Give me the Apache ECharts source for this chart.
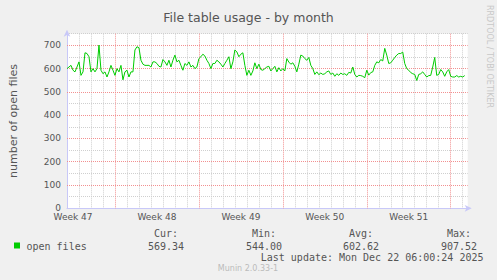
<!DOCTYPE html>
<html>
<head>
<meta charset="utf-8">
<script src="https://cdn.jsdelivr.net/npm/echarts@6/dist/echarts.min.js"></script>
<style>html,body{margin:0;padding:0;background:#f0f0f0;}#c{width:497px;height:280px;}</style>
</head>
<body>
<div id="c"></div>
<script>
// ---- data ----
const titleText = 'File table usage - by month';
const yAxisName = 'number of open files';
const seriesName = 'open files';
const startHour = 0;      // hours from left edge of plot
const stepHours = 4;      // sample spacing in hours
const openFiles = [
600,607,614,593,586,607,629,571,586,668,
665,651,586,600,586,600,701,593,578,586,
564,586,614,593,571,600,586,614,552,586,
593,564,586,586,680,694,690,636,619,614,
614,614,607,629,629,622,610,607,639,629,
614,636,607,636,658,629,636,614,593,622,
614,629,607,614,600,607,643,651,662,654,
636,622,600,622,622,636,629,619,607,622,
636,651,600,629,680,672,651,
662,668,614,571,593,571,590,625,600,619,
596,593,600,607,610,590,600,610,586,604,
590,600,590,643,628,619,625,610,586,619,
658,654,643,636,648,614,600,575,586,574,
581,575,578,586,590,575,581,567,578,571,
581,575,578,571,584,581,607,575,564,571,
570,567,561,593,572,583,586,614,629,625,
639,633,687,658,622,625,636,648,658,665,
665,671,622,600,593,583,578,575,549,575,
578,586,575,564,570,571,607,648,571,575,
596,586,567,586,596,567,564,564,570,564,
567,564,570
];
const xMaxHours = 802;
const dayHours = 24;
const weekStartHours = [96, 264, 432, 600, 768];
const weekLabels = ['Week 47', 'Week 48', 'Week 49', 'Week 50', 'Week 51'];
const weekLabelHours = [12, 180, 348, 516, 684];
const yMax = 750;
const yLabelTicks = [0, 100, 200, 300, 400, 500, 600, 700];
const yMajorTicks = [100, 200, 300, 400, 500, 600, 700];
const yMinorTicks = [50, 150, 250, 350, 450, 550, 650, 750];
const statLabels = ['Cur:', 'Min:', 'Avg:', 'Max:'];
const statValues = ['569.34', '544.00', '602.62', '907.52'];
const lastUpdate = 'Last update: Mon Dec 22 06:00:24 2025';
const footer = 'Munin 2.0.33-1';
const sideText = 'RRDTOOL / TOBI OETIKER';

// ---- chart ----
const points = openFiles.map((v, i) => [startHour + i * stepHours, v]);
// grey daily grid lines, except where a red week line is drawn
const dayLineHours = [];
for (let h = dayHours; h <= xMaxHours; h += dayHours) {
  if (weekStartHours.indexOf(h) < 0) dayLineHours.push(h);
}
const chart = echarts.init(document.getElementById('c'), null, {renderer: 'svg'});
const F = 'DejaVu Sans';
const M = 'DejaVu Sans Mono';
const axisBlue = '#c8c8f8';
const gridGrey = '#cfcfcf';
const gridRed = '#f29090';
const statX = [166, 264, 361, 459];

const graphics = [];
statLabels.forEach((t, i) => {
  graphics.push({type: 'text', x: statX[i], y: 233, style: {text: t, align: 'center', verticalAlign: 'middle', font: '10px "' + M + '"', fill: '#555'}});
  graphics.push({type: 'text', x: statX[i], y: 246, style: {text: statValues[i], align: 'center', verticalAlign: 'middle', font: '10px "' + M + '"', fill: '#555'}});
});
graphics.push({type: 'rect', shape: {x: 14, y: 242.5, width: 6, height: 6}, style: {fill: '#00cc00'}});
graphics.push({type: 'text', x: 26.5, y: 246, style: {text: seriesName, align: 'left', verticalAlign: 'middle', font: '10px "' + M + '"', fill: '#555'}});
graphics.push({type: 'text', x: 483.5, y: 257.7, style: {text: lastUpdate, align: 'right', verticalAlign: 'middle', font: '10px "' + M + '"', fill: '#555'}});
graphics.push({type: 'text', x: 248, y: 268.5, style: {text: footer, align: 'center', verticalAlign: 'middle', font: '8px "' + F + '"', fill: '#bbb'}});
graphics.push({type: 'text', x: 489, y: 56.5, rotation: -Math.PI / 2, style: {text: sideText, align: 'center', verticalAlign: 'middle', font: '8px "' + F + '"', fill: '#c8c8c8'}});

const greySplit = {show: true, showMinLine: true, showMaxLine: true, lineStyle: {color: gridGrey, type: [1, 1], width: 1}};
const redSplit = {show: true, showMinLine: true, showMaxLine: true, lineStyle: {color: gridRed, type: [1, 1], width: 1}};

chart.setOption({
  backgroundColor: '#f0f0f0',
  animation: false,
  title: {
    text: titleText, left: 'center', top: 6,
    textStyle: {fontFamily: F, fontSize: 12.5, fontWeight: 'normal', color: '#555'}
  },
  grid: {left: 66.7, right: 29.3, top: 33.7, bottom: 71.7, show: true, backgroundColor: '#fff', borderWidth: 0},
  xAxis: [
    {
      type: 'value', min: 0, max: xMaxHours, z: 0,
      axisLine: {show: true, lineStyle: {color: axisBlue, width: 1}, symbol: ['none', 'arrow'], symbolSize: [5, 7], symbolOffset: [0, 4]},
      axisTick: {show: false, customValues: dayLineHours},
      axisLabel: {
        show: true, margin: 4, fontFamily: F, fontSize: 9, color: '#555',
        customValues: weekLabelHours,
        formatter: v => {
          const i = weekLabelHours.indexOf(v);
          return i >= 0 ? weekLabels[i] : '';
        }
      },
      splitLine: greySplit
    },
    {
      type: 'value', position: 'top', min: 0, max: xMaxHours, z: 1,
      axisLine: {show: false}, axisLabel: {show: false},
      axisTick: {show: false, customValues: weekStartHours},
      splitLine: redSplit
    }
  ],
  yAxis: [
    {
      type: 'value', min: 0, max: yMax, z: 0,
      name: yAxisName, nameLocation: 'middle', nameGap: 48,
      nameTextStyle: {fontFamily: F, fontSize: 11, color: '#555'},
      axisLine: {show: true, lineStyle: {color: axisBlue, width: 1}, symbol: ['none', 'arrow'], symbolSize: [5, 7], symbolOffset: [0, 4]},
      axisTick: {show: false, customValues: yMinorTicks},
      axisLabel: {margin: 6, fontFamily: F, fontSize: 9, color: '#555', customValues: yLabelTicks, formatter: v => String(v)},
      splitLine: greySplit
    },
    {
      type: 'value', position: 'right', min: 0, max: yMax, z: 1,
      axisLine: {show: false}, axisLabel: {show: false},
      axisTick: {show: false, customValues: yMajorTicks},
      splitLine: redSplit
    }
  ],
  series: [
    {
      name: seriesName, type: 'line', data: points, showSymbol: false, z: 3,
      xAxisIndex: 0, yAxisIndex: 0,
      lineStyle: {color: '#00cc00', width: 1}, itemStyle: {color: '#00cc00'}
    }
  ],
  graphic: graphics
});
</script>
</body>
</html>
